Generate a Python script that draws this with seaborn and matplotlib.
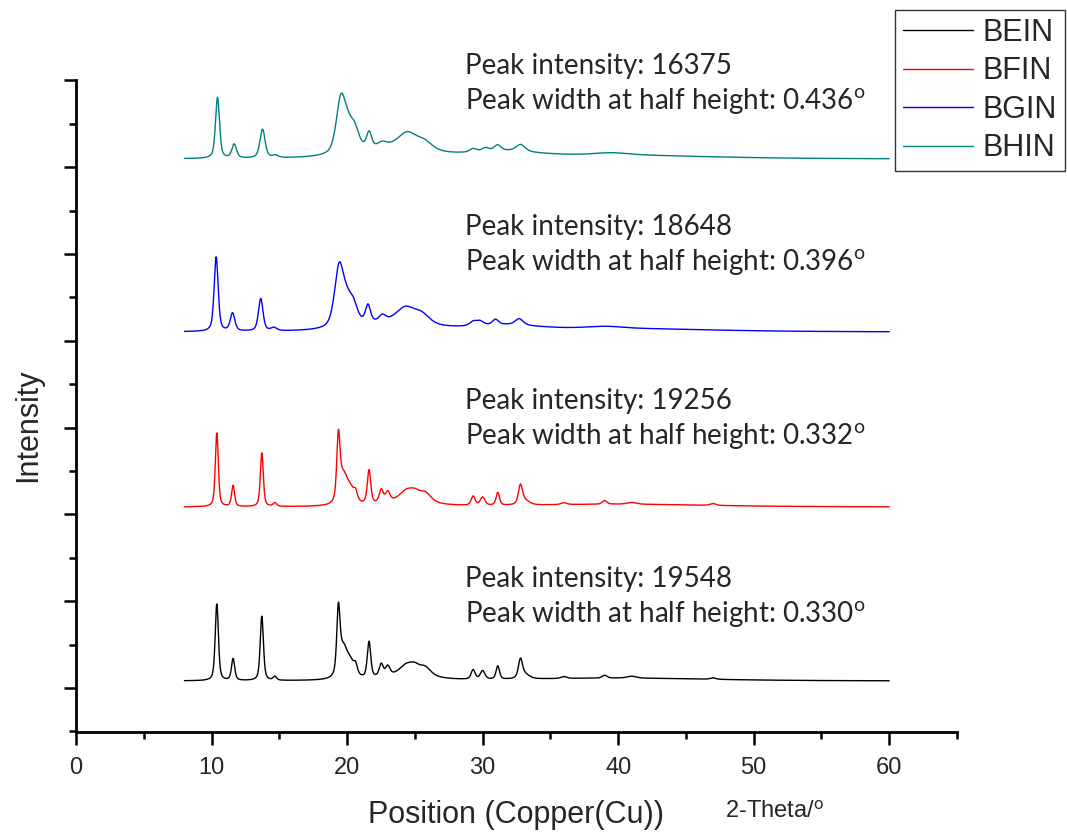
import numpy as np
import pandas as pd
import matplotlib
matplotlib.use("Agg")
import matplotlib.pyplot as plt
import seaborn as sns

# ---------------------------------------------------------------------------
# XRD patterns of four samples (Cu K-alpha, 2-theta scan 8-60 deg)
# ---------------------------------------------------------------------------
samples = ["BEIN", "BFIN", "BGIN", "BHIN"]
line_colors = ["#000000", "#ff0000", "#0000ff", "#008080"]
peak_intensity = [19548, 19256, 18648, 16375]
peak_fwhm_text = ["0.330", "0.332", "0.396", "0.436"]
stack_offset = [0, 43150, 86550, 129450]

scan_start, scan_stop, scan_step = 8.0, 60.0, 0.02

# reflections of each pattern: position (2-theta), relative height, FWHM (deg)
bein_pos = [10.39, 11.59, 13.71, 14.67, 19.36, 19.70, 20.25, 20.63, 21.62, 22.52,
            23.00, 24.40, 25.00, 25.75, 24.50, 29.30, 30.00, 31.12, 32.79, 33.10,
            36.00, 39.00, 41.00, 47.00, 40.00]
bein_height = [81, 23, 68, 4, 65, 30, 16, 8, 38, 13,
               10, 10, 6, 9, 6, 10, 9, 14, 19, 5,
               2, 3, 2, 1.5, 3]
bein_fwhm = [0.28, 0.28, 0.28, 0.30, 0.28, 0.70, 0.80, 0.30, 0.30, 0.35,
             0.40, 1.20, 0.80, 1.00, 4.0, 0.35, 0.40, 0.30, 0.35, 0.80,
             0.50, 0.40, 0.80, 0.50, 16.0]

bfin_pos = [10.39, 11.59, 13.71, 14.67, 19.36, 19.70, 20.25, 20.63, 21.62, 22.52,
            23.00, 24.40, 25.00, 25.75, 24.50, 29.30, 30.00, 31.12, 32.79, 33.10,
            36.00, 39.00, 41.00, 47.00, 40.00]
bfin_height = [81, 23, 59, 4, 67, 30, 16, 8, 37, 14,
               11, 11, 6, 10, 6, 10, 9, 14, 20, 5,
               2, 4, 2, 2, 3]
bfin_fwhm = [0.26, 0.26, 0.26, 0.30, 0.28, 0.70, 0.80, 0.30, 0.30, 0.35,
             0.40, 1.20, 0.80, 1.00, 4.0, 0.35, 0.40, 0.30, 0.35, 0.80,
             0.50, 0.40, 0.80, 0.50, 16.0]

bgin_pos = [10.34, 11.55, 13.63, 14.60, 19.41, 19.95, 20.45, 21.54, 22.60, 24.30,
            25.50, 23.50, 29.30, 29.80, 30.95, 32.70, 31.50, 39.00, 40.00]
bgin_height = [71, 17, 31, 3, 55, 18, 17, 17, 6, 14,
               9, 8, 4, 4, 5, 6, 5, 2, 3]
bgin_fwhm = [0.35, 0.40, 0.40, 0.50, 0.80, 0.90, 0.80, 0.45, 0.60, 1.60,
             1.40, 6.0, 0.60, 0.60, 0.50, 0.70, 6.0, 3.0, 16.0]

bhin_pos = [10.44, 11.67, 13.76, 14.70, 19.53, 20.00, 20.55, 21.62, 22.60, 24.44,
            25.70, 23.50, 29.30, 30.20, 31.10, 32.80, 31.50, 39.50, 40.00]
bhin_height = [53, 12, 25, 2, 43, 18, 17, 14, 4, 13,
               7, 9, 3, 3, 5, 6, 5, 2, 3]
bhin_fwhm = [0.35, 0.40, 0.45, 0.50, 0.80, 0.90, 0.80, 0.45, 0.80, 1.60,
             1.40, 6.0, 0.60, 0.60, 0.60, 0.80, 6.0, 3.0, 16.0]

peak_tables = [
    (bein_pos, bein_height, bein_fwhm),
    (bfin_pos, bfin_height, bfin_fwhm),
    (bgin_pos, bgin_height, bgin_fwhm),
    (bhin_pos, bhin_height, bhin_fwhm),
]


def pseudo_voigt(x, center, fwhm, eta=0.5):
    sigma = fwhm / 2.3548
    gauss = np.exp(-((x - center) ** 2) / (2 * sigma ** 2))
    lorentz = 1.0 / (1.0 + ((x - center) / (fwhm / 2)) ** 2)
    return eta * lorentz + (1 - eta) * gauss


two_theta = np.arange(scan_start, scan_stop + scan_step / 2, scan_step)
frames = []
for name, (pos, hgt, fw), inten, off in zip(samples, peak_tables,
                                             peak_intensity, stack_offset):
    profile = np.zeros_like(two_theta)
    for c, h, w in zip(pos, hgt, fw):
        profile += h * pseudo_voigt(two_theta, c, w)
    counts = inten * profile / profile.max()
    frames.append(pd.DataFrame({"two_theta": two_theta,
                                "intensity": counts + off,
                                "sample": name}))
data = pd.concat(frames, ignore_index=True)

# ---------------------------------------------------------------------------
sns.set_style("ticks")
plt.rcParams["font.family"] = ["Liberation Sans", "DejaVu Sans"]
plt.rcParams["mathtext.fontset"] = "custom"
plt.rcParams["mathtext.rm"] = "Lato"
plt.rcParams["mathtext.it"] = "Lato"

W, H = 1067, 833
fig = plt.figure(figsize=(W / 100, H / 100), dpi=100)
ax = fig.add_axes([76 / W, 1 - 732 / H, (957 - 76) / W, (732 - 80) / H])

sns.lineplot(data=data, x="two_theta", y="intensity", hue="sample",
             hue_order=samples, palette=line_colors, sort=False,
             estimator=None, linewidth=1.0, ax=ax)

ax.set_xlim(0, 65)
ax.set_ylim(-12650, 149050)
ax.set_xticks(np.arange(0, 61, 10))
ax.set_xticks(np.arange(5, 66, 10), minor=True)
y_major = -1736 + 21526 * np.arange(8)
ax.set_yticks(y_major)
ax.set_yticks(y_major - 10763, minor=True)
ax.set_yticklabels([])

for side in ("top", "right"):
    ax.spines[side].set_visible(False)
for side in ("left", "bottom"):
    ax.spines[side].set_linewidth(2.0)
    ax.spines[side].set_color("black")
ax.tick_params(axis="both", which="major", direction="out", length=9,
               width=1.8, color="black")
ax.tick_params(axis="both", which="minor", direction="out", length=5,
               width=1.8, color="black")
ax.tick_params(axis="x", which="major", labelsize=17, pad=9)

ax.set_xlabel("Position (Copper(Cu))", fontsize=22, labelpad=15)
ax.set_ylabel("Intensity", fontsize=22)
ax.yaxis.label.set_va("center")
ax.yaxis.set_label_coords((28 - 76) / (957 - 76), (732 - 425) / (732 - 80))

fig.text(725 / W, 1 - 812 / H, r"2-Theta/$^{\mathrm{o}}$", fontsize=17,
         ha="left", va="center")

# annotations: peak intensity and peak width at half height
text_baselines = [(74, 109), (235, 270), (409, 444), (587, 622)]
for inten, fw, (b1, b2) in zip(peak_intensity[::-1], peak_fwhm_text[::-1],
                                text_baselines):
    fig.text(465 / W, 1 - b1 / H, f"Peak intensity: {inten}",
             family="Lato", fontsize=20, ha="left", va="baseline")
    fig.text(465 / W, 1 - b2 / H,
             f"Peak width at half height: {fw}" + r"$^{\mathrm{o}}$",
             family="Lato", fontsize=20, ha="left", va="baseline")

handles, labels = ax.get_legend_handles_labels()
ax.get_legend().remove()
for hnd in handles:
    hnd.set_linewidth(1.0)
leg = fig.legend(handles, labels, loc="upper right",
                 bbox_to_anchor=(1065 / W, 1 - 10 / H), fontsize=22,
                 frameon=True, fancybox=False, borderaxespad=0,
                 borderpad=0.25, handlelength=2.3, handletextpad=0.33,
                 labelspacing=0.28)
leg.get_frame().set_edgecolor("black")
leg.get_frame().set_linewidth(1.0)

fig.savefig("out.png", dpi=100, facecolor="white")
